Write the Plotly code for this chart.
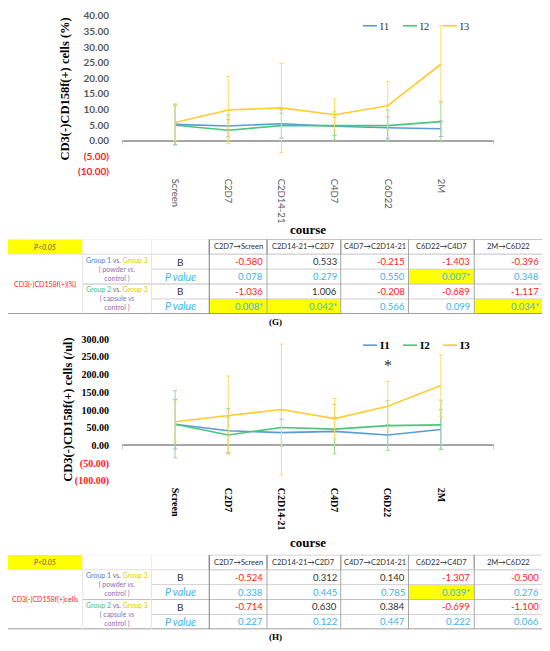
"""CD3(-)CD158f(+) cells: charts (G), (H) with regression tables"""
import plotly.graph_objects as go

# ---- data ----
courses = ["Screen", "C2D7", "C2D14-21", "C4D7", "C6D22", "2M"]
series = ["I1", "I2", "I3"]

# (G) percentage
g_i1 = [5.2, 4.7, 5.4, 4.6, 4.1, 3.8]
g_i1_err = [6.5, 3.5, 4.5, 2.9, 3.5, 2.5]
g_i2 = [4.9, 3.3, 4.8, 4.7, 4.8, 6.1]
g_i2_err = [6.3, 3.5, 4.0, 4.5, 5.0, 6.5]
g_i3 = [5.8, 9.8, 10.5, 8.3, 11.2, 24.5]
g_i3_err = [5.8, 10.8, 14.3, 5.0, 7.7, 12.4]
g_yticks = [-10, -5, 0, 5, 10, 15, 20, 25, 30, 35, 40]

# (H) count /ul
h_i1 = [60, 41.5, 36, 39.7, 29.5, 45]
h_i1_err = [70, 63, 38, 40, 30, 56]
h_i2 = [60, 29.5, 50.8, 46, 56, 58]
h_i2_err = [95, 50, 50, 70, 70, 70]
h_i3 = [67, 85, 101.5, 75.7, 110.8, 169]
h_i3_err = [56, 111, 185, 57, 70, 87]
h_yticks = [-100, -50, 0, 50, 100, 150, 200, 250, 300]
h_star_course = "C6D22"
h_star_y = 226

# tables
transitions = ["C2D7→Screen", "C2D14-21→C2D7", "C4D7→C2D14-21",
               "C6D22→C4D7", "2M→C6D22"]
g_g1_B = [-0.580, 0.533, -0.215, -1.403, -0.396]
g_g1_P = [0.078, 0.279, 0.550, 0.007, 0.348]
g_g2_B = [-1.036, 1.006, -0.208, -0.689, -1.117]
g_g2_P = [0.008, 0.042, 0.566, 0.099, 0.034]
h_g1_B = [-0.524, 0.312, 0.140, -1.307, -0.500]
h_g1_P = [0.338, 0.445, 0.785, 0.039, 0.276]
h_g2_B = [-0.714, 0.630, 0.384, -0.699, -1.100]
h_g2_P = [0.227, 0.122, 0.447, 0.222, 0.066]

# ---- style ----
OFF = 8                      # page body margin
FW, FH = 550 - OFF, 651 - OFF
LINE_COL = ["#5B9BD5", "#4CC47C", "#FFCC33"]
ERR_COL = ["#8DB8E2", "#9FD98A", "#FFD966"]
SERIF = "Liberation Serif"
SANS = "Lato"
RED = "#FF2020"
BLUE_P = "#3DB3E8"


def px(x):
    return (x - OFF) / FW


def py(y):
    return 1 - (y - OFF) / FH


def acc(v):
    if v < 0:
        return "<span style='color:%s'>(%.2f)</span>" % (RED, -v)
    return "%.2f" % v


fig = go.Figure()

# ---- line charts ----
idx = list(range(len(courses)))
for k, (vals, errs) in enumerate([(g_i1, g_i1_err), (g_i2, g_i2_err), (g_i3, g_i3_err)]):
    fig.add_trace(go.Scatter(
        x=idx, y=vals, name=series[k], mode="lines", xaxis="x", yaxis="y",
        line=dict(color=LINE_COL[k], width=1.6), showlegend=False,
        error_y=dict(type="data", array=errs, color=ERR_COL[k], thickness=1, width=2)))
for k, (vals, errs) in enumerate([(h_i1, h_i1_err), (h_i2, h_i2_err), (h_i3, h_i3_err)]):
    fig.add_trace(go.Scatter(
        x=idx, y=vals, name=series[k], mode="lines", xaxis="x2", yaxis="y2",
        line=dict(color=LINE_COL[k], width=1.6), showlegend=False,
        error_y=dict(type="data", array=errs, color=ERR_COL[k], thickness=1, width=2)))

xdom = [px(122), px(494)]
common_x = dict(domain=xdom, range=[-1, 6], tickvals=idx, ticktext=courses,
                tickangle=90, showgrid=False, showline=False, zeroline=False,
                ticks="", ticklabelstandoff=6, fixedrange=True)
common_y = dict(showgrid=False, showline=False, zeroline=True,
                zerolinecolor="#A6A6A6", zerolinewidth=1.5, ticks="",
                ticklabelstandoff=12)

layout = dict(
    width=FW, height=FH, margin=dict(l=0, r=0, t=0, b=0),
    paper_bgcolor="white", plot_bgcolor="white", showlegend=False,
    xaxis=dict(common_x, anchor="y",
               tickfont=dict(family=SANS, size=9.5, color="#595959")),
    yaxis=dict(common_y, anchor="x", domain=[py(169), py(10)], range=[-10, 40],
               tickvals=g_yticks, ticktext=[acc(v) for v in g_yticks],
               tickfont=dict(family=SANS, size=10, color="#595959", weight="bold")),
    xaxis2=dict(common_x, anchor="y2",
                tickfont=dict(family=SERIF, size=10, color="black", weight="bold")),
    yaxis2=dict(common_y, anchor="x2", domain=[py(484.4), py(340)], range=[-100, 300],
                tickvals=h_yticks, ticktext=[acc(v) for v in h_yticks],
                tickfont=dict(family=SERIF, size=10, color="black", weight="bold")),
)

# ---- tables ----
col_w = [75, 69, 58, 58, 74, 68, 66, 69]
edges = [0]
for w in col_w:
    edges.append(edges[-1] + w)
table_axes = {"3": (238, 314), "4": (560, 636)}
for a, (top, bot) in table_axes.items():
    layout["xaxis" + a] = dict(domain=[px(8), px(8 + edges[-1] - 2)], range=[0, edges[-1]],
                               visible=False, anchor="y" + a, fixedrange=True)
    layout["yaxis" + a] = dict(domain=[py(bot), py(top)], range=[5, 0],
                               visible=False, anchor="x" + a, fixedrange=True)

shapes = []
annotations = []


def add_table(a, label, g1_B, g1_P, g2_B, g2_P):
    xr, yr = "x" + a, "y" + a

    def rect(x0, x1, y0, y1, fill=None, line=None, lw=1):
        shapes.append(dict(type="rect", xref=xr, yref=yr, x0=x0, x1=x1, y0=y0, y1=y1,
                           fillcolor=fill or "rgba(0,0,0,0)",
                           line=dict(color=line or "rgba(0,0,0,0)", width=lw if line else 0),
                           layer="below"))

    def hline(y, x0, x1, col, lw=1):
        shapes.append(dict(type="line", xref=xr, yref=yr, x0=x0, x1=x1, y0=y, y1=y,
                           line=dict(color=col, width=lw)))

    def vline(x, y0, y1, col, lw=1):
        shapes.append(dict(type="line", xref=xr, yref=yr, x0=x, x1=x, y0=y0, y1=y1,
                           line=dict(color=col, width=lw)))

    def text(x, y, t, size, color, xanchor="center", **font):
        annotations.append(dict(xref=xr, yref=yr, x=x, y=y, text=t, showarrow=False,
                                xanchor=xanchor, yanchor="middle",
                                font=dict(family=SANS, size=size, color=color, **font)))

    # header
    rect(edges[0], edges[1], 0, 1, fill="#FFFF00")
    text((edges[0] + edges[1]) / 2, 0.5, "<i>P&lt;0.05</i>", 7, "#5A5A3A")
    for c in (1, 2):
        rect(edges[c], edges[c + 1], 0, 1, line="#EDEDED")
    for j, t in enumerate(transitions):
        c = j + 3
        rect(edges[c], edges[c + 1], 0, 1, line="#A6A6A6")
        text((edges[c] + edges[c + 1]) / 2, 0.5, t, 7.5, "#303030")

    # significant P cells (rows: 1 B, 2 P, 3 B, 4 P)
    for r, pvals in ((2, g1_P), (4, g2_P)):
        for j, p in enumerate(pvals):
            if p < 0.05:
                rect(edges[j + 3], edges[j + 4], r, r + 1, fill="#FFFF00")

    # grid
    hline(1, edges[0], edges[-1], "#E3E3E3")
    hline(2, edges[2], edges[-1], "#D0D0D0")
    hline(3, edges[1], edges[-1], "#BFBFBF")
    hline(4, edges[2], edges[-1], "#D0D0D0")
    hline(5, edges[0], edges[-1], "#7F7F7F", 1.5)
    vline(edges[1], 1, 5, "#E3E3E3")
    vline(edges[2], 1, 5, "#E3E3E3")
    vline(edges[3], 0, 5, "#7F7F7F")
    for c in range(4, 9):
        vline(edges[c], 0, 5, "#A6A6A6")

    # row labels
    text((edges[0] + edges[1]) / 2, 3, label, 7, RED)
    vs = "<span style='color:#7F5FAF'> vs. </span>"
    g3 = "<span style='color:#D8CC00'>Group 3</span>"
    text((edges[1] + edges[2]) / 2, 2,
         "<span style='color:#4F7FD6'>Group 1</span>" + vs + g3 +
         "<br>( powder <i>vs.</i><br>control )", 7, "#8C6CB4")
    text((edges[1] + edges[2]) / 2, 4,
         "<span style='color:#3CC878'>Group 2</span>" + vs + g3 +
         "<br>( capsule <i>vs</i><br>control )", 7, "#8C6CB4")
    mid2 = (edges[2] + edges[3]) / 2
    for r in (1.5, 3.5):
        text(mid2, r, "B", 10, "#303030")
    for r in (2.5, 4.5):
        text(mid2, r, "<i>P value</i>", 10.5, BLUE_P)

    # values
    for r, vals, is_p in ((1.5, g1_B, False), (2.5, g1_P, True),
                          (3.5, g2_B, False), (4.5, g2_P, True)):
        for j, v in enumerate(vals):
            right = edges[j + 4] - 2
            if is_p:
                t = "%.3f" % v + ("*" if v < 0.05 else "")
                col = BLUE_P
            else:
                t = "%.3f" % v
                col = RED if v < 0 else "#303030"
            text(right, r, t, 9.5, col, xanchor="right")


add_table("3", "CD3(-)CD158f(+)(%)", g_g1_B, g_g1_P, g_g2_B, g_g2_P)
add_table("4", "CD3(-)CD158f(+)cells", h_g1_B, h_g1_P, h_g2_B, h_g2_P)


def paper_text(x, y, t, size, angle=0, xanchor="center", color="black", weight="bold"):
    annotations.append(dict(xref="paper", yref="paper", x=px(x), y=py(y), text=t,
                            showarrow=False, textangle=angle, xanchor=xanchor,
                            yanchor="middle",
                            font=dict(family=SERIF, size=size, color=color,
                                      weight=weight)))


paper_text(65, 85, "CD3(-)CD158f(+) cells (%)", 12.5, -90)
paper_text(68, 412, "CD3(-)CD158f(+) cells (/ul)", 12.5, -90)
paper_text(308, 228, "course", 13)
paper_text(308, 547, "course", 13)
paper_text(275, 322, "(G)", 9)
paper_text(275, 644, "(H)", 9)

# legends (short line samples as in the original)
for ly, weight, tcol in ((20, "normal", "#404040"), (346, "bold", "black")):
    for k, name in enumerate(series):
        x0 = 363 + 40 * k
        shapes.append(dict(type="line", xref="paper", yref="paper",
                           x0=px(x0), x1=px(x0 + 14), y0=py(ly), y1=py(ly),
                           line=dict(color=LINE_COL[k], width=1.6)))
        paper_text(x0 + 15, ly, name, 11, xanchor="left", color=tcol, weight=weight)

# small end ticks on the category axis lines
for yr in ("y", "y2"):
    for xe in (-1, 6):
        shapes.append(dict(type="line", xref="x" if yr == "y" else "x2", yref=yr,
                           x0=xe, x1=xe, y0=0, y1=0, ysizemode="pixel", yanchor=0,
                           line=dict(color="#A6A6A6", width=1)))
        shapes[-1].update(y0=0, y1=-4)

annotations.append(dict(xref="x2", yref="y2", x=courses.index(h_star_course), y=h_star_y,
                        text="*", showarrow=False,
                        font=dict(family=SERIF, size=16, color="#303030")))

layout["shapes"] = shapes
layout["annotations"] = annotations
fig.update_layout(layout)
fig.write_html("out.html")
